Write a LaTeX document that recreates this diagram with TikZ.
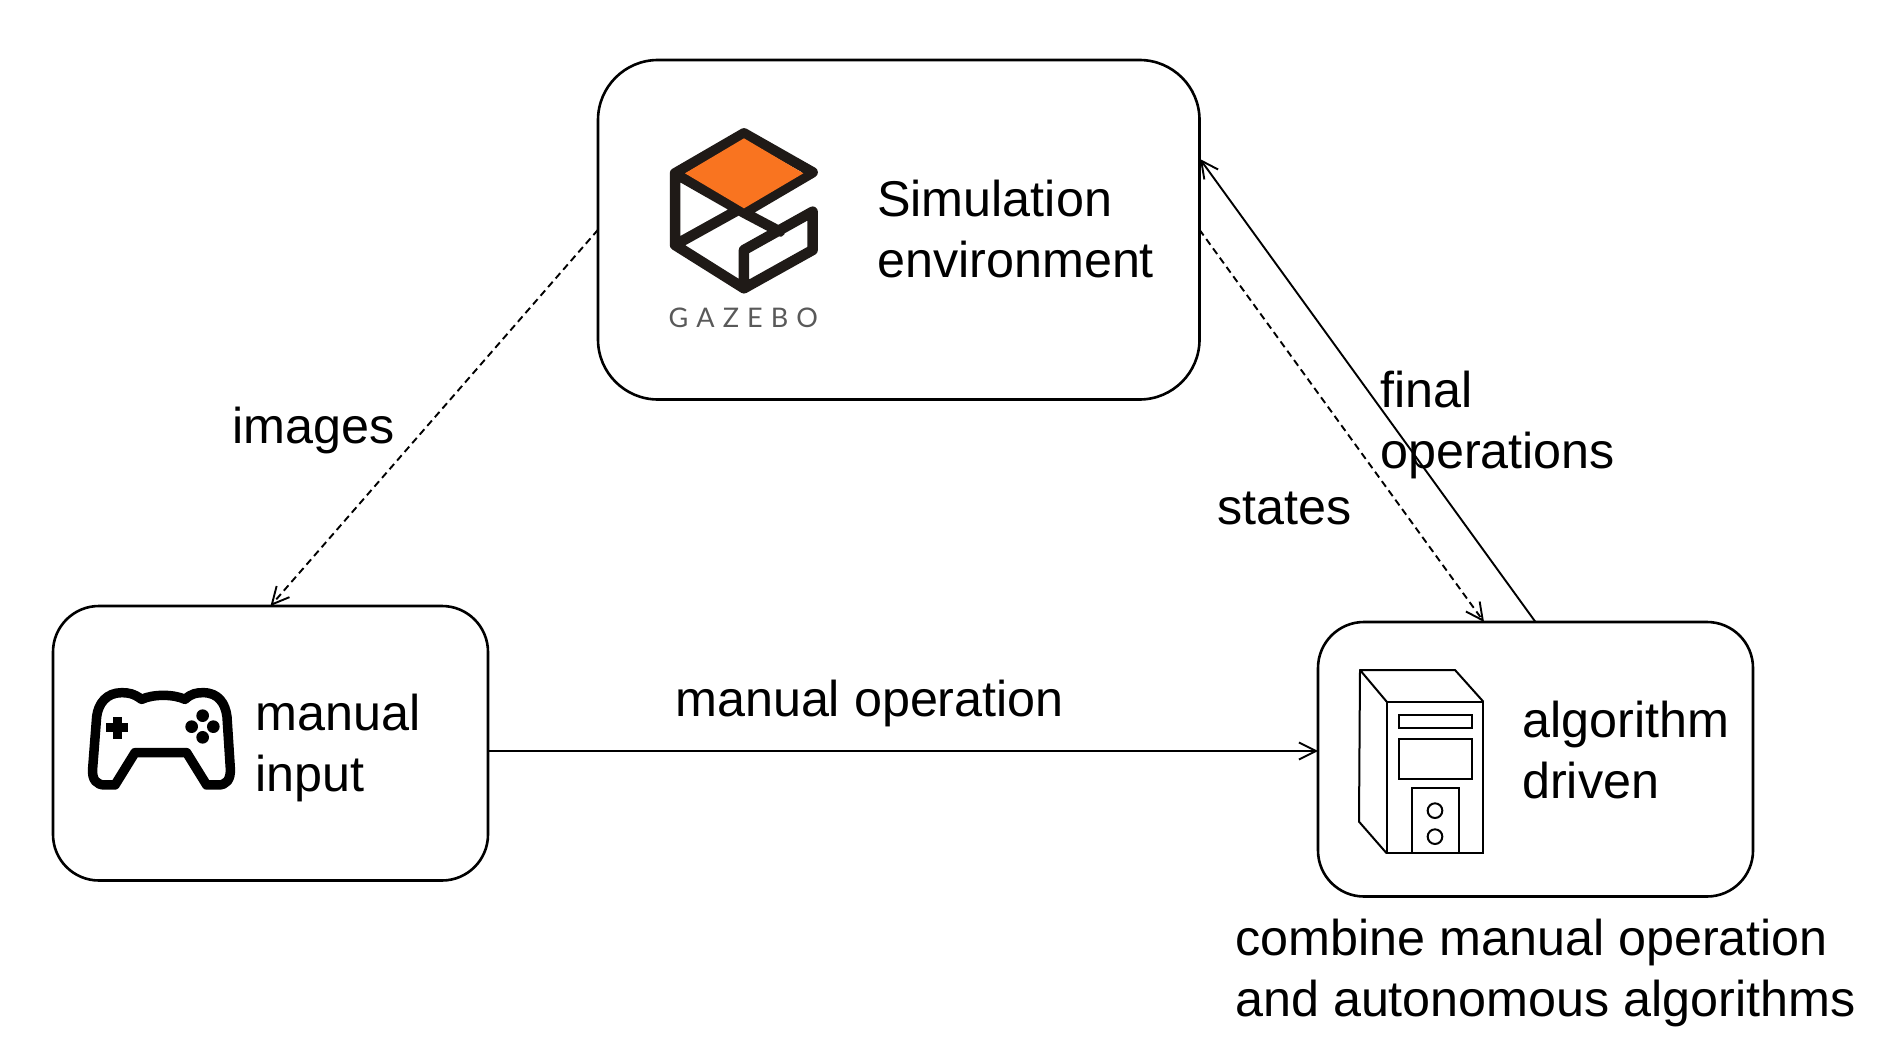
\documentclass[tikz,border=0pt]{standalone}
\usepackage{fontspec}
\usepackage{xcolor}
\usepackage{tikz}
\usetikzlibrary{arrows.meta,positioning}
\setmainfont{Liberation Sans}
\newfontfamily\logofont[LetterSpace=30]{Lato}
\definecolor{logoink}{HTML}{1F1A17}
\definecolor{logoorange}{HTML}{F97420}

\begin{document}
\begin{tikzpicture}[
 x=1pt,y=-1pt,
 box/.style={draw,line width=2.6pt,rounded corners=#1,anchor=north west,outer sep=0pt},
 txt/.style={align=left,inner sep=0pt,anchor=base west,
 font=\fontsize{50.3}{60.6}\selectfont},
 arr/.style={-{Straight Barb[length=17pt,width=17pt]},line width=1.9pt},
 dasharr/.style={arr,dash pattern=on 7pt off 4.5pt}]
\useasboundingbox (0,0) rectangle (1900,1056);
\node[box=60pt,minimum width=601.5pt,minimum height=339.5pt] (sim) at (598,60) {};
\node[box=46pt,minimum width=435pt,minimum height=274.5pt] (manual) at (53,606) {};
\node[box=46pt,minimum width=435pt,minimum height=274.5pt] (algo) at (1318,622) {};
\node[txt] (simtext) at (877,277.5) {Simulation\\environment};
\node[txt] (manualtext) at (255.5,791) {manual\\input};
\node[txt] (algotext) at (1522,798.5) {algorithm\\driven};
\node[txt] (notetext) at (1235,1016) {combine manual operation\\and autonomous algorithms};
\node[txt] (imageslabel) at (232,443) {images};
\node[txt] (opslabel) at (675,716) {manual operation};
\node[txt] (finallabel) at (1380,468.5) {final\\operations};
\node[txt] (stateslabel) at (1217,524) {states};
\coordinate (finalend) at (1200,159);
\coordinate (statesend) at (1484,622);
\coordinate (opend) at (1318,751);
\draw[dasharr] (sim.west) -- (manual.north);
\draw[dasharr] (sim.east) -- (statesend);
\draw[arr] (algo.north) -- (finalend);
\draw[arr] (manual.east |- opend) -- (opend);
% gazebo logo
\begin{scope}[shift={(640,110)},x=.3333pt,y=-.3333pt]
\draw[logoink,line width=10.5pt,line join=round,line cap=round]
 (312,70) -- (518,187) -- (312,308) -- (105,190) -- cycle
 (105,190) -- (105,405) -- (312,535) -- (518,420) -- (518,305) -- (312,420) -- (312,535)
 (105,405) -- (312,290)
 (312,308) -- (420,365);
\fill[logoorange] (312,85) -- (490,190) -- (312,295) -- (135,190) -- cycle;
\node[inner sep=0pt,text=black!65] (gazebo) at (310,625) {\logofont\fontsize{27}{30}\selectfont GAZEBO};
\end{scope}
% gamepad
\begin{scope}[shift={(70,670)},x=.3333pt,y=-.3333pt]
\draw[line width=9.5pt,line join=round]
 (215,88) .. controls (190,70) and (175,68) .. (155,68)
 .. controls (110,68) and (85,100) .. (80,140)
 -- (68,295) .. controls (65,330) and (80,345) .. (105,345)
 -- (135,345) -- (195,248) -- (350,248) -- (410,345) -- (445,345)
 .. controls (468,345) and (483,330) .. (481,295)
 -- (471,140) .. controls (466,100) and (445,68) .. (400,68)
 .. controls (380,68) and (365,70) .. (345,88)
 .. controls (310,72) and (250,72) .. (215,88) -- cycle;
\fill (128,140) rectangle (155,208);
\fill (107,160) rectangle (175,187);
\fill (398,137) circle (19) (398,202) circle (19) (365,170) circle (19) (430,170) circle (19);
\end{scope}
% computer
\begin{scope}[shift={(1340,650)},x=.3333pt,y=-.3333pt,line width=2pt]
\draw (140,155) rectangle (430,610);
\draw[line join=round] (140,155) -- (60,60) -- (345,60) -- (430,155);
\draw (60,60) -- (57,515) -- (140,610);
\draw (177,195) rectangle (397,233);
\draw (177,267) rectangle (397,387);
\draw (216,610) -- (216,415) -- (357,415) -- (357,610);
\draw (285,482) circle (22);
\draw (285,560) circle (22);
\end{scope}
\end{tikzpicture}
\end{document}
